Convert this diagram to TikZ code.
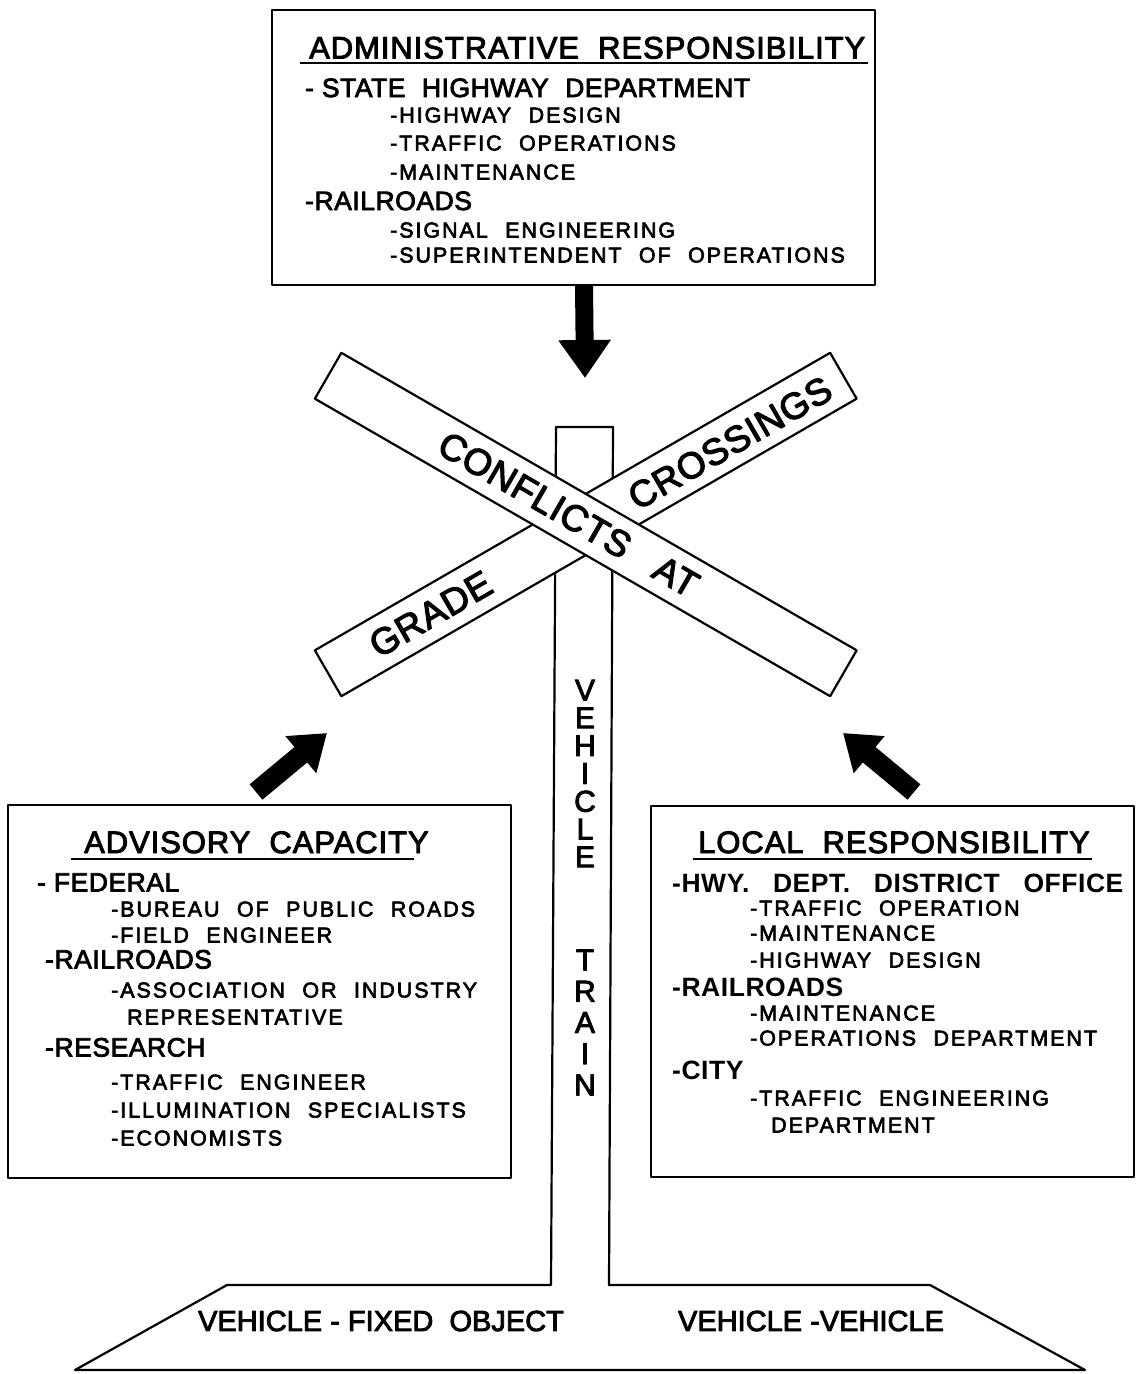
\documentclass[tikz,border=0pt]{standalone}
\usepackage{fontspec}
\setmainfont[FakeBold=3]{Liberation Sans}
\newfontfamily\ttlfont[LetterSpace=3,WordSpace=2,FakeBold=3]{Liberation Sans}
\newfontfamily\itmfont[LetterSpace=2,WordSpace=2.5,FakeBold=3]{Liberation Sans}
\newfontfamily\bitmfont[LetterSpace=2,WordSpace=3]{Liberation Sans Bold}
\newfontfamily\subfont[LetterSpace=9,WordSpace=2.2,FakeBold=3]{Liberation Sans}
\newfontfamily\signfont[LetterSpace=2,FakeBold=3]{Liberation Sans}
\newcommand{\wsp}{\hspace{0.62em}}
\usetikzlibrary{arrows.meta}
\begin{document}
\begin{tikzpicture}[x=1pt,y=-1pt, line join=round,
  frame/.style={draw, line width=2.2pt, fill=white, inner sep=0pt},
  ttl/.style={anchor=base west, inner sep=0pt, font=\ttlfont\fontsize{31}{31}\selectfont},
  itm/.style={anchor=base west, inner sep=0pt, font=\itmfont\fontsize{26.5}{26.5}\selectfont},
  bitm/.style={anchor=base west, inner sep=0pt, font=\bitmfont\fontsize{26.5}{26.5}\selectfont},
  sub/.style={anchor=base west, inner sep=0pt, font=\subfont\fontsize{21.5}{21.5}\selectfont},
  uline/.style={line width=2.4pt},
  board/.style={draw, line width=2.2pt, fill=white, rectangle, minimum width=595pt, minimum height=53pt, inner sep=0pt},
  signtxt/.style={inner sep=0pt, font=\signfont\fontsize{37}{37}\selectfont},
  fatdown/.style={line width=18pt, -{Triangle[width=50pt,length=38pt]}},
  fatdiag/.style={line width=20pt, -{Triangle[width=46pt,length=34pt]}},
  vertA/.style={inner sep=0pt, align=center, font=\fontsize{30}{27.8}\selectfont},
  vertB/.style={inner sep=0pt, align=center, font=\fontsize{30}{31.25}\selectfont},
  basetxt/.style={inner sep=0pt, font=\fontsize{29}{29}\selectfont}
]
\useasboundingbox (0,0) rectangle (1137,1374);

% ---------- post and base ----------
\draw[line width=2.2pt, fill=white] (227,1285) -- (551,1285) -- (556,427) -- (613,427) -- (609,1285) -- (930,1285) -- (1085,1370) -- (75,1370) -- cycle;

% ---------- crossbuck ----------
\node[board, rotate=30] (board2) at (585.75,524.5) {};
\node[board, rotate=-30] (board1) at (585.75,524.5) {};
\node[signtxt, rotate=-30] (conf) at (535,495) {CONFLICTS};
\node[signtxt, rotate=-30] (at) at (676,576.5) {AT};
\node[signtxt, rotate=30] (grade) at (430.7,614) {GRADE};
\node[signtxt, rotate=30] (cross) at (730,443) {CROSSINGS};

% ---------- vertical texts ----------
\node[vertA] (veh) at (585,773.5) {V\\E\\H\\I\\C\\L\\E};
\node[vertB] (train) at (585,1022.5) {T\\R\\A\\I\\N};

% ---------- bottom texts ----------
\node[basetxt] (vfo) at (381,1321) {VEHICLE - FIXED\ \ OBJECT};
\node[basetxt] (vv) at (811,1321) {VEHICLE -VEHICLE};

% ---------- top box ----------
\node[frame, minimum width=603pt, minimum height=275pt] (admin) at (573.5,147.5) {};
\node[ttl] (at0) at (309,58.5) {ADMINISTRATIVE RESPONSIBILITY};
\draw[uline] (300,63) -- (868,63);
\node[itm] (at1) at (305,97) {- STATE\wsp HIGHWAY\wsp DEPARTMENT};
\node[sub] (at2) at (390,122.5) {-HIGHWAY DESIGN};
\node[sub] (at3) at (390,150.5) {-TRAFFIC OPERATIONS};
\node[sub] (at4) at (390,179.5) {-MAINTENANCE};
\node[itm] (at5) at (305,210) {-RAILROADS};
\node[sub] (at6) at (390,237.5) {-SIGNAL ENGINEERING};
\node[sub] (at7) at (390,262.5) {-SUPERINTENDENT OF OPERATIONS};

% ---------- left box ----------
\node[frame, minimum width=503pt, minimum height=373pt] (advis) at (259.5,991.5) {};
\node[ttl] (ad0) at (84,853) {ADVISORY CAPACITY};
\draw[uline] (71,859) -- (414,859);
\node[itm] (ad1) at (37,891.5) {- FEDERAL};
\node[sub] (ad2) at (111,916.5) {-BUREAU OF PUBLIC ROADS};
\node[sub] (ad3) at (111,942.5) {-FIELD ENGINEER};
\node[itm] (ad4) at (45,968.5) {-RAILROADS};
\node[sub] (ad5) at (111,997.5) {-ASSOCIATION OR INDUSTRY};
\node[sub] (ad6) at (127,1024.5) {REPRESENTATIVE};
\node[itm] (ad7) at (45,1056.5) {-RESEARCH};
\node[sub] (ad8) at (111,1089.5) {-TRAFFIC ENGINEER};
\node[sub] (ad9) at (111,1117.5) {-ILLUMINATION SPECIALISTS};
\node[sub] (ad10) at (111,1145.5) {-ECONOMISTS};

% ---------- right box ----------
\node[frame, minimum width=483pt, minimum height=371pt] (local) at (892.5,991.5) {};
\node[ttl] (lo0) at (698,853) {LOCAL RESPONSIBILITY};
\draw[uline] (693,859) -- (1092,859);
\node[bitm] (lo1) at (672,892.5) {-HWY. DEPT. DISTRICT OFFICE};
\node[sub] (lo2) at (750,915.5) {-TRAFFIC OPERATION};
\node[sub] (lo3) at (750,940.5) {-MAINTENANCE};
\node[sub] (lo4) at (750,967.5) {-HIGHWAY DESIGN};
\node[bitm] (lo5) at (672,996.5) {-RAILROADS};
\node[sub] (lo6) at (750,1020.5) {-MAINTENANCE};
\node[sub] (lo7) at (750,1045.5) {-OPERATIONS DEPARTMENT};
\node[bitm] (lo8) at (672,1079) {-CITY};
\node[sub] (lo9) at (750,1105.5) {-TRAFFIC ENGINEERING};
\node[sub] (lo10) at (771,1132.5) {DEPARTMENT};

% ---------- arrows ----------
\coordinate (d0) at (584,285);
\coordinate (d1) at (585,378);
\draw[fatdown] (d0) -- (d1);
\coordinate (l0) at (256,792);
\coordinate (l1) at (327,733);
\draw[fatdiag] (l0) -- (l1);
\coordinate (r0) at (914,792);
\coordinate (r1) at (843,733);
\draw[fatdiag] (r0) -- (r1);
\end{tikzpicture}
\end{document}
